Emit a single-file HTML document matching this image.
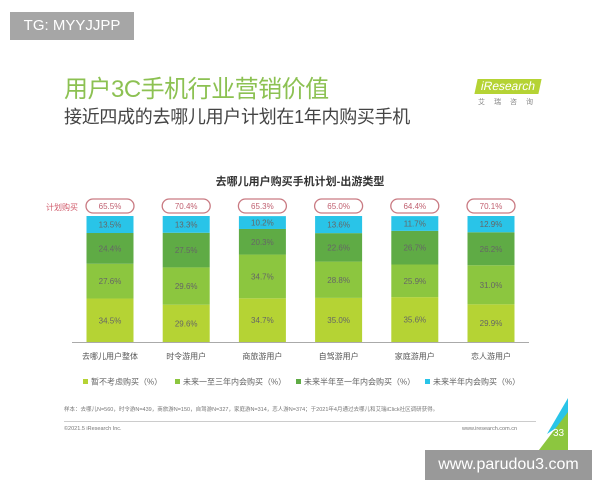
<!DOCTYPE html>
<html><head><meta charset="utf-8"><style>
body{margin:0;width:600px;height:480px;background:#fff;overflow:hidden;position:relative;font-family:"Liberation Sans","Noto Sans CJK SC",sans-serif}
.abs{position:absolute}
</style></head><body>
<div class="abs" style="left:10px;top:12px;width:124px;height:28px;background:#a6a6a6;color:#fff;font-size:15px;line-height:28px;text-align:center">TG: MYYJJPP</div>
<div class="abs" style="left:64px;top:69px;font-size:24px;letter-spacing:-0.5px;color:#8cc152">用户3C手机行业营销价值</div>
<div class="abs" style="left:64px;top:103px;font-size:18px;letter-spacing:-0.3px;color:#444">接近四成的去哪儿用户计划在1年内购买手机</div>
<div class="abs" style="left:476px;top:79px;width:64px;height:15px;background:#b5d334;transform:skewX(-12deg);color:#fff;font-size:12px;line-height:15px;text-align:center">iResearch</div>
<div class="abs" style="left:478px;top:97px;font-size:7px;color:#888;letter-spacing:9px">艾瑞咨询</div>
<svg class="abs" style="left:0;top:0" width="600" height="480" id="chart"></svg>
<div class="abs" style="left:64px;top:405px;font-size:5.5px;color:#777">样本：去哪儿N=560，时令游N=439，商旅游N=150，自驾游N=327，家庭游N=314，恋人游N=374；于2021年4月通过去哪儿和艾瑞iClick社区调研获得。</div>
<div class="abs" style="left:64px;top:421px;width:472px;height:1px;background:#ccc"></div>
<div class="abs" style="left:64px;top:426px;font-size:5.5px;color:#777">©2021.5 iResearch Inc.</div>
<div class="abs" style="left:462px;top:426px;font-size:5.5px;color:#777">www.iresearch.com.cn</div>
<svg class="abs" style="left:535px;top:398px" width="35" height="55"><polygon points="33,0 33,22 12,36" fill="#29c4e8"/><polygon points="33,14 33,52 4,52" fill="#8cc63f"/><text x="18" y="38" font-size="10" fill="#fff">33</text></svg>
<div class="abs" style="left:425px;top:450px;width:167px;height:30px;background:#999;color:#fff;font-size:16px;line-height:30px;text-align:center">www.parudou3.com</div>
<script>
const categories=["去哪儿用户整体","时令游用户","商旅游用户","自驾游用户","家庭游用户","恋人游用户"];
const noPlan=[34.5,29.6,34.7,35.0,35.6,29.9];
const oneToThree=[27.6,29.6,34.7,28.8,25.9,31.0];
const halfToOne=[24.4,27.5,20.3,22.6,26.7,26.2];
const withinHalf=[13.5,13.3,10.2,13.6,11.7,12.9];
const planBuy=["65.5%","70.4%","65.3%","65.0%","64.4%","70.1%"];
const seriesNames=["暂不考虑购买（%）","未来一至三年内会购买（%）","未来半年至一年内会购买（%）","未来半年内会购买（%）"];
const colors=["#b5d334","#8cc63f","#5fab45","#29c4e8"];
const svg=document.getElementById('chart');const NS='http://www.w3.org/2000/svg';
function mk(t,a,txt){const e=document.createElementNS(NS,t);for(const k in a)e.setAttribute(k,a[k]);if(txt!=null)e.textContent=txt;svg.appendChild(e);return e;}
const base=342,scaleH=126/100;
const y=v=>base-v*scaleH;
const xc=i=>110+i*76.2;
const bw=47;
const series=[noPlan,oneToThree,halfToOne,withinHalf];
let t=mk('text',{x:300,y:185,'font-size':11,'font-weight':'bold','text-anchor':'middle',fill:'#333'},'去哪儿用户购买手机计划-出游类型');

t=mk('text',{x:46,y:210,'font-size':8,fill:'#d05a6a'},'计划购买');

categories.forEach((c,i)=>{
 let acc=0;
 series.forEach((s,j)=>{
  const v=s[i];
  const r=mk('rect',{x:xc(i)-bw/2,y:y(acc+v),width:bw,height:v*scaleH,fill:colors[j]});
  
  
  const l=mk('text',{x:xc(i),y:y(acc+v/2)+3,'font-size':8,'text-anchor':'middle',fill:'#666'},v.toFixed(1)+'%');
  
  
  acc+=v;
 });
 const p=mk('rect',{x:xc(i)-24,y:199,width:48,height:14,rx:7,fill:'#fff',stroke:'#c97a82','stroke-width':1.3});
 
 
 const pt=mk('text',{x:xc(i),y:209,'font-size':8,'text-anchor':'middle',fill:'#c06070'},planBuy[i]);
 
 
 const cl=mk('text',{x:xc(i),y:359,'font-size':8,'text-anchor':'middle',fill:'#555'},c);
 
 
});
const ax=mk('line',{x1:72,y1:base+0.5,x2:529,y2:base+0.5,stroke:'#aaa','stroke-width':1});


const lx=[83,175,296,425];
seriesNames.forEach((n,j)=>{
 const m=mk('rect',{x:lx[j],y:379,width:5,height:5,fill:colors[j]});
 
 
 const lt=mk('text',{x:lx[j]+8,y:384.5,'font-size':8,fill:'#666'},n);
 
 
});
</script>
</body></html>
